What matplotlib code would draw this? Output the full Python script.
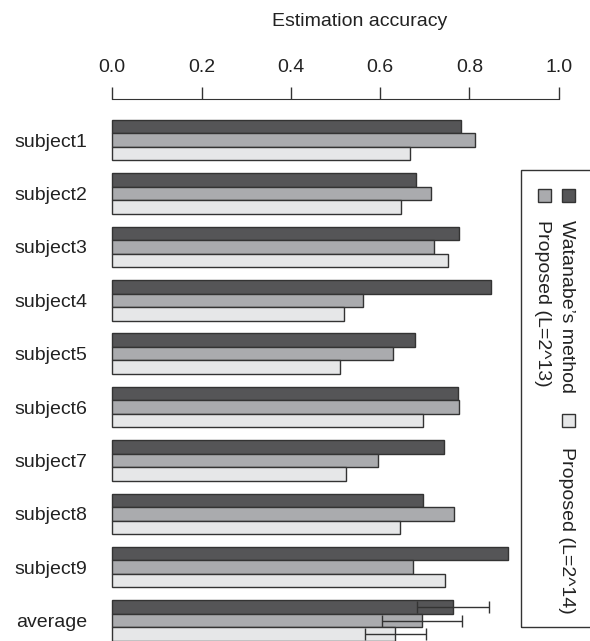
import numpy as np
import matplotlib
matplotlib.use("Agg")
import matplotlib.pyplot as plt
from matplotlib.patches import Rectangle

plt.rcParams['font.family'] = ['Liberation Sans', 'DejaVu Sans']
plt.rcParams['text.color'] = '#222222'
plt.rcParams['xtick.labelcolor'] = '#222222'
plt.rcParams['ytick.labelcolor'] = '#222222'

# data
subjects = ['subject1', 'subject2', 'subject3', 'subject4', 'subject5',
            'subject6', 'subject7', 'subject8', 'subject9', 'average']
watanabe = [0.781, 0.681, 0.777, 0.849, 0.677, 0.774, 0.744, 0.695, 0.886, 0.763]
proposed13 = [0.813, 0.714, 0.720, 0.562, 0.628, 0.776, 0.596, 0.766, 0.673, 0.694]
proposed14 = [0.668, 0.647, 0.753, 0.518, 0.511, 0.697, 0.523, 0.645, 0.746, 0.634]
avg_err = [0.081, 0.090, 0.069]   # watanabe, L=2^13, L=2^14

labels = ["Watanabe\u2019s method", "Proposed (L=2^13)", "Proposed (L=2^14)"]
colors = ['#555557', '#aaabae', '#e6e7e8']
edge = '#333333'

W, H = 590, 641
fig = plt.figure(figsize=(W / 100, H / 100), dpi=100)
ax = fig.add_axes([112.3 / W, 0, (558.7 - 112.3) / W, 1 - 99.3 / H])

y = np.arange(len(subjects))
bh = 0.253
series = [watanabe, proposed13, proposed14]
for k, vals in enumerate(series):
    ax.barh(y + (k - 1) * bh, vals, height=bh, color=colors[k],
            edgecolor=edge, linewidth=1, clip_on=False)
    ax.errorbar(vals[-1], y[-1] + (k - 1) * bh, xerr=avg_err[k], fmt='none',
                ecolor=edge, elinewidth=1, capsize=4.3, capthick=1, clip_on=False)

ax.set_xlim(0, 1)
ax.set_ylim(9.384, -0.766)
ax.set_yticks(y)
ax.set_yticklabels(subjects, fontsize=14)
ax.set_xticks(np.arange(0, 1.01, 0.2))
ax.set_xticklabels(['%.1f' % v for v in np.arange(0, 1.01, 0.2)], fontsize=14)
ax.xaxis.tick_top()
ax.tick_params(axis='x', direction='out', length=8.3, width=1, pad=8.5, color=edge)
ax.tick_params(axis='y', length=0, pad=18)
for s in ['left', 'right', 'bottom']:
    ax.spines[s].set_visible(False)
ax.spines['top'].set_bounds(0, 1)
ax.spines['top'].set_color(edge)

fig.text(360 / W, 1 - 22 / H, 'Estimation accuracy', ha='center', va='center', fontsize=14)

# rotated legend drawn by hand
def px(x, yy):
    return x / W, 1 - yy / H

fig.add_artist(Rectangle(px(521, 627), 100 / W, (627 - 170) / H, transform=fig.transFigure,
                         facecolor='none', edgecolor=edge, linewidth=1, clip_on=False))
leg_pos = [(568, 195, 220), (544, 195, 220), (568, 420, 447)]
for k, (cx, sy, ty) in enumerate(leg_pos):
    fig.add_artist(Rectangle(px(cx - 6.5, sy + 6.5), 13 / W, 13 / H, transform=fig.transFigure,
                             facecolor=colors[k], edgecolor=edge, linewidth=1))
    fig.text(*px(cx - 1.5, ty), labels[k], rotation=270, ha='center', va='top', fontsize=14)

fig.savefig('out.png', dpi=100)
